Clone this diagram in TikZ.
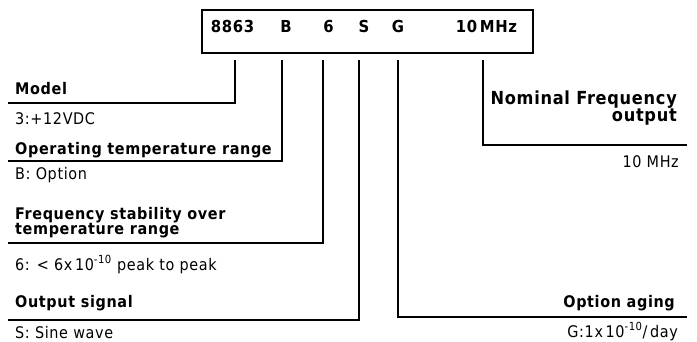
\documentclass[tikz,border=0pt]{standalone}
\usepackage{fontspec}
\setmainfont{DejaVu Sans Condensed}[LetterSpace=4]
\begin{document}
\begin{tikzpicture}[x=1pt,y=-1pt,
  lbl/.style={font=\fontsize{16}{15}\selectfont\bfseries, inner sep=0pt, anchor=base west, align=left},
  val/.style={font=\fontsize{16}{16}\selectfont, inner sep=0pt, anchor=base west},
  rlbl/.style={font=\fontsize{18}{15}\selectfont\bfseries, inner sep=0pt, anchor=base east, align=right},
  rval/.style={font=\fontsize{16}{16}\selectfont, inner sep=0pt, anchor=base east},
  code/.style={font=\fontsize{16.5}{16}\selectfont\bfseries, inner sep=0pt, anchor=base},
  conn/.style={line width=1.4pt},
  boxst/.style={draw, line width=1.8pt, minimum width=331pt, minimum height=43pt, inner sep=0pt}]
\useasboundingbox (0,0) rectangle (697,342);
% top box
\node[boxst] (box) at (367.5,31.5) {};
\node[code] (c8863) at (232.5,33) {8863};
\node[code] (cB) at (286,33) {B};
\node[code] (c6) at (328.5,33) {6};
\node[code] (cS) at (364,33) {S};
\node[code] (cG) at (398,33) {G};
\node[code] (cF) at (486.5,33) {10\,MHz};
% left labels
\node[lbl] (model) at (15,95) {Model};
\node[val] (modelv) at (15,125) {3:+12VDC};
\node[lbl] (oper) at (15,155) {Operating temperature range};
\node[val] (operv) at (15,180) {B: Option};
\node[lbl] (freq) at (15,235) {Frequency stability over\\temperature range};
\node[val] (freqv) at (15,270) {6: < 6x\,10\textsuperscript{-10} peak to peak};
\node[lbl] (outs) at (15,308) {Output signal};
\node[val] (outsv) at (15,338) {S: Sine wave};
% right labels
\node[rlbl] (nom) at (677,122) {Nominal Frequency\\output};
\node[rval] (nomv) at (679,168) {10 MHz};
\node[lbl, anchor=base east] (aging) at (675,307) {Option aging};
\node[rval] (agingv) at (678,337) {G:1x\,10\textsuperscript{-10}/\,day};
% connector ends
\coordinate (m0) at (235,60); \coordinate (m1) at (235,103); \coordinate (m2) at (8,103);
\coordinate (b0) at (282,60); \coordinate (b1) at (282,161); \coordinate (b2) at (8,161);
\coordinate (s0) at (323,60); \coordinate (s1) at (323,243); \coordinate (s2) at (8,243);
\coordinate (o0) at (359,60); \coordinate (o1) at (359,320); \coordinate (o2) at (8,320);
\coordinate (g0) at (398,60); \coordinate (g1) at (398,317); \coordinate (g2) at (687,317);
\coordinate (f0) at (483,60); \coordinate (f1) at (483,145); \coordinate (f2) at (687,145);
\draw[conn] (m0) -- (m1) -- (m2);
\draw[conn] (b0) -- (b1) -- (b2);
\draw[conn] (s0) -- (s1) -- (s2);
\draw[conn] (o0) -- (o1) -- (o2);
\draw[conn] (g0) -- (g1) -- (g2);
\draw[conn] (f0) -- (f1) -- (f2);
\end{tikzpicture}
\end{document}
